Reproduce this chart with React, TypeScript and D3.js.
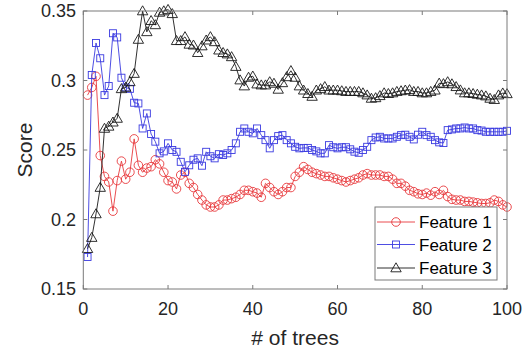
import React from "react";
import * as d3 from "d3";

const feature1: number[] = [
  0.2895, 0.295, 0.303, 0.246, 0.231, 0.227, 0.206, 0.228, 0.242, 0.229,
  0.234, 0.258, 0.239, 0.234, 0.237, 0.238, 0.243, 0.240, 0.234, 0.228,
  0.227, 0.222, 0.232, 0.234, 0.226, 0.223, 0.218, 0.214, 0.2105, 0.209,
  0.209, 0.2105, 0.214, 0.214, 0.215, 0.216, 0.218, 0.221, 0.221, 0.220,
  0.219, 0.216, 0.226, 0.223, 0.220, 0.218, 0.220, 0.223, 0.223, 0.231,
  0.234, 0.238, 0.236, 0.234, 0.233, 0.232, 0.231, 0.231, 0.230, 0.229,
  0.228, 0.227, 0.228, 0.229, 0.230, 0.232, 0.233, 0.232, 0.232, 0.232,
  0.231, 0.231, 0.229, 0.226, 0.226, 0.224, 0.221, 0.220, 0.2185, 0.218,
  0.219, 0.2175, 0.220, 0.218, 0.221, 0.2165, 0.2145, 0.214, 0.214, 0.213,
  0.213, 0.2125, 0.212, 0.2115, 0.2115, 0.212, 0.214, 0.213, 0.2105, 0.209,
];

const feature2: number[] = [
  0.173, 0.304, 0.327, 0.316, 0.2895, 0.296, 0.334, 0.331, 0.302, 0.295,
  0.294, 0.284, 0.2835, 0.2655, 0.2763, 0.2615, 0.256, 0.2476, 0.249, 0.2548,
  0.25, 0.2487, 0.2415, 0.2343, 0.239, 0.243, 0.244, 0.2387, 0.2487, 0.2455,
  0.244, 0.247, 0.2464, 0.2476, 0.25, 0.2548, 0.2631, 0.2655, 0.2631, 0.262,
  0.2655, 0.2607, 0.2571, 0.2512, 0.2571, 0.26, 0.2607, 0.2571, 0.2548, 0.2523,
  0.2512, 0.2515, 0.2515, 0.25, 0.249, 0.2476, 0.2476, 0.2535, 0.252, 0.2512,
  0.252, 0.252, 0.2505, 0.2488, 0.248, 0.25, 0.2523, 0.2571, 0.259, 0.2595,
  0.2583, 0.2583, 0.2583, 0.2595, 0.2607, 0.261, 0.2595, 0.2576, 0.261, 0.2631,
  0.2607, 0.2595, 0.2571, 0.2555, 0.255, 0.2643, 0.2648, 0.2655, 0.2655, 0.2662,
  0.2655, 0.2655, 0.2643, 0.264, 0.2631, 0.2631, 0.2631, 0.2631, 0.2631, 0.2638,
];

const feature3: number[] = [
  0.179, 0.187, 0.204, 0.223, 0.2655, 0.267, 0.270, 0.2727, 0.294, 0.295,
  0.299, 0.305, 0.3295, 0.350, 0.335, 0.343, 0.340, 0.349, 0.350, 0.351,
  0.348, 0.3286, 0.3286, 0.3314, 0.326, 0.3254, 0.320, 0.3248, 0.329, 0.3314,
  0.3278, 0.3218, 0.320, 0.319, 0.317, 0.310, 0.3003, 0.296, 0.3022, 0.3031,
  0.2974, 0.2967, 0.2967, 0.299, 0.2979, 0.2936, 0.2983, 0.3026, 0.307, 0.3022,
  0.296, 0.293, 0.2905, 0.2885, 0.293, 0.294, 0.2955, 0.293, 0.293, 0.293,
  0.2925, 0.292, 0.292, 0.292, 0.292, 0.291, 0.2895, 0.2871, 0.2875, 0.289,
  0.291, 0.2905, 0.291, 0.292, 0.2925, 0.293, 0.2933, 0.292, 0.292, 0.291,
  0.291, 0.292, 0.293, 0.298, 0.2976, 0.299, 0.2975, 0.2955, 0.2931, 0.291,
  0.291, 0.2905, 0.290, 0.2895, 0.2888, 0.2871, 0.2862, 0.2895, 0.2909, 0.2904,
];

const seriesNames = ["Feature 1", "Feature 2", "Feature 3"];
const xTicks = [0, 20, 40, 60, 80, 100];
const yTicks = [0.15, 0.2, 0.25, 0.3, 0.35];
const yTickLabels = ["0.15", "0.2", "0.25", "0.3", "0.35"];

const W = 529;
const H = 351;
const left = 83.3;
const right = 507;
const top = 11;
const bottom = 289;

const colors = ["#e8393c", "#3a3ae0", "#1a1a1a"];
const axisColor = "#7a7a7a";
const textColor = "#262626";
const font = "'Liberation Sans', Arial, sans-serif";

type Marker = "circle" | "square" | "triangle";
const markers: Marker[] = ["circle", "square", "triangle"];

function MarkerShape({ kind, x, y, color }: { kind: Marker; x: number; y: number; color: string }) {
  if (kind === "circle") {
    return <circle cx={x} cy={y} r={4.3} fill="none" stroke={color} strokeWidth={0.9} />;
  }
  if (kind === "square") {
    return <rect x={x - 3.5} y={y - 3.5} width={7} height={7} fill="none" stroke={color} strokeWidth={0.9} />;
  }
  const p = `M${x},${y - 5.2}L${x + 5.2},${y + 3.8}L${x - 5.2},${y + 3.8}Z`;
  return <path d={p} fill="none" stroke={color} strokeWidth={0.9} />;
}

export default function App() {
  const x = d3.scaleLinear().domain([0, 100]).range([left, right]);
  const y = d3.scaleLinear().domain([0.15, 0.35]).range([bottom, top]);
  const all = [feature1, feature2, feature3];
  const line = d3
    .line<number>()
    .x((_, i) => x(i + 1))
    .y((d) => y(d));

  const legend = { x0: 375, y0: 207, x1: 497, y1: 280 };
  const rowY = [222, 244.5, 268];

  return (
    <svg
      width={W}
      height={H}
      style={{ position: "absolute", left: 0, top: 0, background: "#fff" }}
      fontFamily={font}
    >
      <rect x={0} y={0} width={W} height={H} fill="#fff" />
      {all.map((s, k) => (
        <g key={k}>
          <path d={line(s) || ""} fill="none" stroke={colors[k]} strokeWidth={0.9} />
          {s.map((v, i) => (
            <MarkerShape key={i} kind={markers[k]} x={x(i + 1)} y={y(v)} color={colors[k]} />
          ))}
        </g>
      ))}
      <rect x={left} y={top} width={right - left} height={bottom - top} fill="none" stroke={axisColor} strokeWidth={1} />
      {xTicks.map((t) => (
        <g key={"xt" + t}>
          <line x1={x(t)} x2={x(t)} y1={bottom} y2={bottom - 4} stroke={axisColor} />
          <line x1={x(t)} x2={x(t)} y1={top} y2={top + 4} stroke={axisColor} />
          <text x={x(t)} y={315} textAnchor="middle" fontSize={18} fill={textColor}>
            {t}
          </text>
        </g>
      ))}
      {yTicks.map((t, i) => (
        <g key={"yt" + t}>
          <line x1={left} x2={left + 4} y1={y(t)} y2={y(t)} stroke={axisColor} />
          <line x1={right} x2={right - 4} y1={y(t)} y2={y(t)} stroke={axisColor} />
          <text x={76} y={y(t)} dy="0.35em" textAnchor="end" fontSize={18} fill={textColor}>
            {yTickLabels[i]}
          </text>
        </g>
      ))}
      <text x={(left + right) / 2} y={345} textAnchor="middle" fontSize={21} fill={textColor}>
        # of trees
      </text>
      <text
        transform={`translate(32,${(top + bottom) / 2}) rotate(-90)`}
        textAnchor="middle"
        fontSize={21}
        fill={textColor}
      >
        Score
      </text>
      <rect
        x={legend.x0}
        y={legend.y0}
        width={legend.x1 - legend.x0}
        height={legend.y1 - legend.y0}
        fill="#fff"
        stroke={axisColor}
        strokeWidth={1}
      />
      {seriesNames.map((n, k) => (
        <g key={n}>
          <line x1={377} x2={415} y1={rowY[k]} y2={rowY[k]} stroke={colors[k]} strokeWidth={0.9} />
          <MarkerShape kind={markers[k]} x={396} y={rowY[k]} color={colors[k]} />
          <text x={419} y={rowY[k]} dy="0.36em" fontSize={17} fill="#000">
            {n}
          </text>
        </g>
      ))}
    </svg>
  );
}
